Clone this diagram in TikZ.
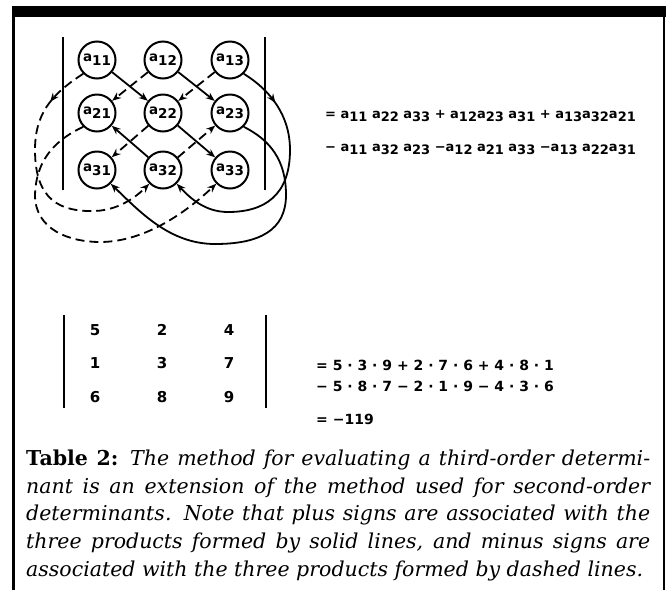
\documentclass[tikz,border=0pt]{standalone}
\usepackage{fontspec}
\usepackage{tikz}
\usetikzlibrary{arrows.meta,decorations.markings}
\newfontfamily\eqfont{DejaVu Sans}
\newfontfamily\capfont{DejaVu Serif}
\newcommand\ael[1]{a\raisebox{-0.28em}{#1}}
\tikzset{
  elem/.style={circle, draw, line width=2pt, minimum size=37pt, inner sep=0pt,
    font=\eqfont\bfseries\fontsize{13.5}{15}\selectfont},
  solidarr/.style={line width=1.8pt, -{Stealth[length=9pt,width=7pt]}},
  dasharr/.style={solidarr, dash pattern=on 9pt off 5pt},
  midarr/.style={postaction={decorate}, decoration={markings,
    mark=at position #1 with {\arrow{Stealth[length=9pt,width=7pt]}}}},
  eqtext/.style={anchor=base west, inner sep=0pt,
    font=\eqfont\bfseries\fontsize{13}{15}\selectfont},
  numtext/.style={inner sep=0pt, font=\eqfont\bfseries\fontsize{15}{17}\selectfont}
}
\begin{document}
\begin{tikzpicture}[x=1pt, y=-1pt]
\useasboundingbox (0,0) rectangle (671,590);
% frame
\fill (12,6) rectangle (666,17);
\draw[line width=3pt] (13.5,6) -- (13.5,590);
\draw[line width=2.5pt] (664,6) -- (664,590);

% elements of the determinant
\foreach \r/\y in {1/60,2/113,3/170}
  \foreach \c/\x in {1/97,2/163,3/230}
    \node[elem] (a\r\c) at (\x,\y) {\ael{\r\c}};
\draw[line width=2pt] (63,37) -- (63,190);
\draw[line width=2pt] (265,37) -- (265,190);

% solid lines (plus products)
\draw[solidarr] (a11) -- (a22);
\draw[solidarr] (a22) -- (a33);
\draw[solidarr] (a12) -- (a23);
\draw[solidarr] (a32) -- (a21);
\draw[solidarr, midarr=0.17] (a13.south east) .. controls (270,90) and (290,115) .. (290,150)
  .. controls (290,195) and (265,212) .. (228,212)
  .. controls (205,212) and (190,198) .. (a32.south east);
\draw[solidarr] (a23.south east) .. controls (270,140) and (286,160) .. (286,195)
  .. controls (286,230) and (260,244) .. (215,244)
  .. controls (170,244) and (140,212) .. (a31.south east);

% dashed lines (minus products)
\draw[dasharr] (a13) -- (a22);
\draw[dasharr] (a22) -- (a31);
\draw[dasharr] (a12) -- (a21);
\draw[dasharr] (a32) -- (a23);
\draw[dasharr, midarr=0.17] (a11.south west) .. controls (50,95) and (35,115) .. (35,150)
  .. controls (35,200) and (60,212) .. (95,211)
  .. controls (118,210) and (135,198) .. (a32.south west);
\draw[dasharr] (a21.south west) .. controls (55,140) and (36,160) .. (35,195)
  .. controls (35,230) and (70,242) .. (100,242)
  .. controls (140,242) and (180,218) .. (a33.south west);

\node[eqtext] (sumplus) at (325,118) {= \ael{11} \ael{22} \ael{33} + \ael{12}\ael{23} \ael{31} + \ael{13}\ael{32}\ael{21}};
\node[eqtext] (summinus) at (325,151) {− \ael{11} \ael{32} \ael{23} −\ael{12} \ael{21} \ael{33} −\ael{13} \ael{22}\ael{31}};

% numeric example
\foreach \v [count=\i from 0] in {5,2,4,1,3,7,6,8,9}
  \node[numtext] (n\i) at ({95+67*mod(\i,3)},{330+33.5*floor(\i/3)}) {\v};
\draw[line width=2.5pt] (64,315) -- (64,408);
\draw[line width=2.5pt] (266,315) -- (266,408);
\node[eqtext, font=\eqfont\bfseries\fontsize{14}{16}\selectfont] (valplus) at (316,370) {= 5 · 3 · 9 + 2 · 7 · 6 + 4 · 8 · 1};
\node[eqtext, font=\eqfont\bfseries\fontsize{14}{16}\selectfont] (valminus) at (316,391) {− 5 · 8 · 7 − 2 · 1 · 9 − 4 · 3 · 6};
\node[eqtext, font=\eqfont\bfseries\fontsize{14}{16}\selectfont] (result) at (316,424) {= −119};

% caption
\node[anchor=north west, inner sep=0pt, align=left,
  font=\capfont\itshape\fontsize{20.5}{27.6}\selectfont] (caption) at (26,450)
  {\makebox[624pt][s]{\textup{\bfseries Table 2:} The method for evaluating a third-order determi-}\\
   \makebox[624pt][s]{nant is an extension of the method used for second-order}\\
   \makebox[624pt][s]{determinants. Note that plus signs are associated with the}\\
   \makebox[624pt][s]{three products formed by solid lines, and minus signs are}\\
   associated with the three products formed by dashed lines.};
\end{tikzpicture}
\end{document}
